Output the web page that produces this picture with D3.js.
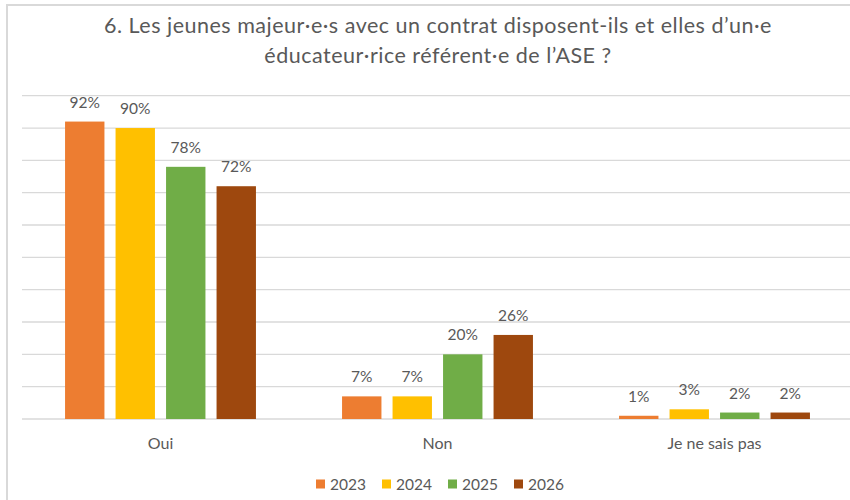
<!DOCTYPE html>
<html>
<head>
<meta charset="utf-8">
<script src="https://cdn.jsdelivr.net/npm/d3@7"></script>
<style>
  html, body { margin: 0; padding: 0; background: #fff; }
  svg { display: block; font-family: Lato, "Open Sans", sans-serif; }
</style>
</head>
<body>
<svg id="chart" width="850" height="500"></svg>
<script>
const titleLines = ["6. Les jeunes majeur·e·s avec un contrat disposent-ils et elles d’un·e", "éducateur·rice référent·e de l’ASE ?"];
const categories = ["Oui", "Non", "Je ne sais pas"];
const years = ["2023", "2024", "2025", "2026"];
const values2023 = [92, 7, 1];
const values2024 = [90, 7, 3];
const values2025 = [78, 20, 2];
const values2026 = [72, 26, 2];
const colors = ["#ED7D31", "#FFC000", "#70AD47", "#9E480E"];
const yTicks = [0, 10, 20, 30, 40, 50, 60, 70, 80, 90, 100];

const series = [values2023, values2024, values2025, values2026];
const data = categories.map((c, i) => ({
  cat: c,
  vals: years.map((y, j) => ({ year: y, value: series[j][i], color: colors[j] }))
}));

const svg = d3.select("#chart");
const W = 850, H = 500;
const plot = { left: 22, right: 853, top: 95.7, bottom: 419 };

// frame
svg.append("path")
  .attr("d", `M7,${H} L7,5 L${W},5`)
  .attr("fill", "none").attr("stroke", "#d9d9d9").attr("stroke-width", 2);

// title
const title = svg.append("text")
  .attr("text-anchor", "middle")
  .attr("fill", "#595959")
  .attr("font-size", 21.5)
  .attr("letter-spacing", 0.5);
titleLines.forEach((t, i) => {
  title.append("tspan").attr("x", 438).attr("y", 33 + i * 30).text(t);
});

const x0 = d3.scaleBand().domain(categories).range([plot.left, plot.right]).padding(0);
const groupW = 202;
const x1 = d3.scaleBand().domain(years).range([-groupW / 2, groupW / 2]).paddingInner(0.22).paddingOuter(0.11);
const y = d3.scaleLinear().domain([0, 100]).range([plot.bottom, plot.top]);

// gridlines
svg.append("g").selectAll("line").data(yTicks).join("line")
  .attr("x1", plot.left).attr("x2", W)
  .attr("y1", d => y(d)).attr("y2", d => y(d))
  .attr("stroke", "#d9d9d9").attr("stroke-width", 1.3);

// bars
const groups = svg.append("g").selectAll("g").data(data).join("g")
  .attr("transform", d => `translate(${x0(d.cat) + x0.bandwidth() / 2},0)`);

groups.selectAll("rect").data(d => d.vals).join("rect")
  .attr("x", d => x1(d.year))
  .attr("width", x1.bandwidth())
  .attr("y", d => y(d.value))
  .attr("height", d => y(0) - y(d.value))
  .attr("fill", d => d.color);

groups.selectAll("text.lbl").data(d => d.vals).join("text")
  .attr("class", "lbl")
  .attr("x", d => x1(d.year) + x1.bandwidth() / 2)
  .attr("y", d => y(d.value) - 14)
  .attr("text-anchor", "middle")
  .attr("font-size", 15.5)
  .attr("fill", "#595959")
  .text(d => d.value + "%");

// x axis labels
const xAxis = d3.axisBottom(x0).tickSize(0).tickPadding(0);
const xg = svg.append("g").attr("transform", `translate(0,${plot.bottom})`).call(xAxis);
xg.select(".domain").remove();
xg.selectAll("text")
  .attr("dy", null)
  .attr("y", 30)
  .attr("font-size", 16)
  .attr("font-family", "Lato, 'Open Sans', sans-serif")
  .attr("fill", "#595959");

// legend
const legend = svg.append("g").attr("transform", "translate(316,484)");
const items = legend.selectAll("g").data(years).join("g")
  .attr("transform", (d, i) => `translate(${i * 66},0)`);
items.append("rect").attr("x", 0).attr("y", -4.5).attr("width", 9).attr("height", 9)
  .attr("fill", (d, i) => colors[i]);
items.append("text").attr("x", 14).attr("y", 5.5)
  .attr("font-size", 15.5).attr("fill", "#595959").text(d => d);
</script>
</body>
</html>
